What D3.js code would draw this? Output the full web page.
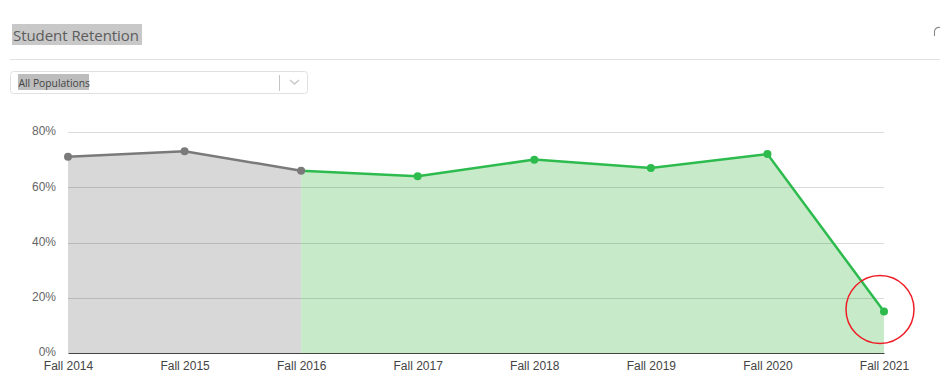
<!DOCTYPE html>
<html><head><meta charset="utf-8">
<script src="https://cdn.jsdelivr.net/npm/d3@7"></script>
<style>html,body{margin:0;padding:0;background:#fff}svg{display:block}</style>
</head><body><svg id="c" width="944" height="391"></svg>
<script>
const categories=["Fall 2014","Fall 2015","Fall 2016","Fall 2017","Fall 2018","Fall 2019","Fall 2020","Fall 2021"];
const retention=[71,73,66,64,70,67,72,15];
const yTicks=[0,20,40,60,80];
const greyCount=3;
const titleText="Student Retention";
const filterText="All Populations";

const svg=d3.select("#c");
const x=d3.scalePoint().domain(categories).range([68,884]);
const y=d3.scaleLinear().domain([0,80]).range([353,132]);
const rows=categories.map((c,i)=>({c,v:retention[i]}));
const greyRows=rows.slice(0,greyCount), greenRows=rows.slice(greyCount-1);
const sans="Arial,'Liberation Sans',sans-serif", head="'Open Sans',sans-serif";

// header
svg.append("rect").attr("x",12).attr("y",24).attr("width",130).attr("height",21).attr("fill","#c8c8c8");
svg.append("text").attr("x",13).attr("y",41).attr("font-family",head).attr("font-size",15).attr("letter-spacing",-0.05).attr("fill","#5c5c5c").text(titleText);
svg.append("line").attr("x1",10).attr("x2",940).attr("y1",59.5).attr("y2",59.5).attr("stroke","#e2e2e2");
svg.append("path").attr("d","M940 27.5a5 5 0 0 0-5.5 3.5v5").attr("fill","none").attr("stroke","#8a8a8a").attr("stroke-width",1.1);

// filter
svg.append("rect").attr("x",10.5).attr("y",71.5).attr("width",297).attr("height",22).attr("rx",3).attr("fill","#fff").attr("stroke","#e0e0e0");
svg.append("rect").attr("x",18).attr("y",74).attr("width",71).attr("height",16).attr("fill","#bdbdbd");
svg.append("text").attr("x",18.5).attr("y",86.5).attr("font-family",head).attr("font-size",10.3).attr("fill","#444").text(filterText);
svg.append("line").attr("x1",279.5).attr("x2",279.5).attr("y1",75).attr("y2",91).attr("stroke","#c4c4c4");
svg.append("path").attr("d","M290 80l4.5 4 4.5-4").attr("fill","none").attr("stroke","#c8c8c8").attr("stroke-width",1.5);

// areas
const area=d3.area().x(d=>x(d.c)).y0(y(0)).y1(d=>y(d.v));
svg.append("path").datum(greyRows).attr("d",area).attr("fill","#d9d8d9");
svg.append("path").datum(greenRows).attr("d",area).attr("fill","#c7ebc9");

// grid
const grid=d3.axisLeft(y).tickValues(yTicks.filter(d=>d>0)).tickSize(-(884-68)).tickFormat("");
const gg=svg.append("g").attr("transform","translate(68,0)").call(grid);
gg.select(".domain").remove();
gg.selectAll("line").attr("stroke","#000").attr("stroke-opacity",0.14).attr("shape-rendering","crispEdges");

// y labels
const ya=d3.axisLeft(y).tickValues(yTicks).tickSize(0).tickPadding(12).tickFormat(d=>d+"%");
const yg=svg.append("g").attr("transform","translate(68,-1)").call(ya);
yg.select(".domain").remove();
yg.selectAll("text").attr("font-family",sans).attr("font-size",12).attr("fill","#666");

// x axis
const xa=d3.axisBottom(x).tickSize(0).tickPadding(8);
const xg=svg.append("g").attr("transform","translate(0,353)").call(xa);
xg.select(".domain").attr("stroke","#444").attr("stroke-width",1.2);
xg.selectAll("text").attr("font-family",sans).attr("font-size",12).attr("fill","#444");

// lines
const line=d3.line().x(d=>x(d.c)).y(d=>y(d.v));
svg.append("path").datum(greenRows).attr("d",line).attr("fill","none").attr("stroke","#2dbb4e").attr("stroke-width",2.5);
svg.append("path").datum(greyRows).attr("d",line).attr("fill","none").attr("stroke","#7a7a7a").attr("stroke-width",2.5);
svg.selectAll("circle.p").data(rows).join("circle").attr("class","p")
  .attr("cx",d=>x(d.c)).attr("cy",d=>y(d.v)).attr("r",4)
  .attr("fill",(d,i)=>i<greyCount?"#7a7a7a":"#2dbb4e");

// annotation
svg.append("ellipse").attr("cx",880).attr("cy",309.5).attr("rx",34).attr("ry",34)
  .attr("fill","none").attr("stroke","#ee1c25").attr("stroke-width",1.5);
</script></body></html>
